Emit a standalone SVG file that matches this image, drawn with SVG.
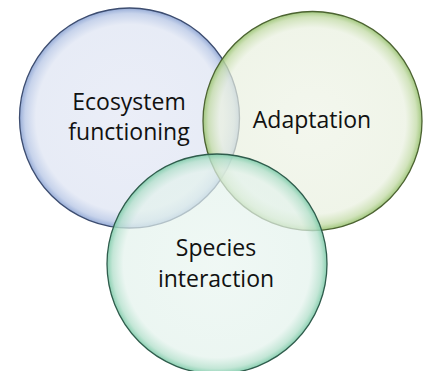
<svg xmlns="http://www.w3.org/2000/svg" width="430" height="371" viewBox="0 0 430 371">
<style>
.lbl{font-family:"Open Sans","Noto Sans",sans-serif;font-size:23px;fill:#111;text-anchor:middle}
.c{stroke-width:1.3}
</style>
<defs>
<radialGradient id="gb" cx="0.5" cy="0.5" r="0.5">
<stop offset="0" stop-color="#e4e8f5" stop-opacity="0.75"/>
<stop offset="0.85" stop-color="#dfe5f3" stop-opacity="0.75"/>
<stop offset="0.95" stop-color="#b9c8e6" stop-opacity="0.8"/>
<stop offset="1" stop-color="#8aa2d2" stop-opacity="0.9"/>
</radialGradient>
<radialGradient id="gg" cx="0.5" cy="0.5" r="0.5">
<stop offset="0" stop-color="#eef3e6" stop-opacity="0.7"/>
<stop offset="0.85" stop-color="#e9f0df" stop-opacity="0.7"/>
<stop offset="0.95" stop-color="#c5dcaa" stop-opacity="0.8"/>
<stop offset="1" stop-color="#98c270" stop-opacity="0.9"/>
</radialGradient>
<radialGradient id="gt" cx="0.5" cy="0.5" r="0.5">
<stop offset="0" stop-color="#e9f5f0" stop-opacity="0.7"/>
<stop offset="0.85" stop-color="#e3f2ec" stop-opacity="0.7"/>
<stop offset="0.95" stop-color="#b4e0cc" stop-opacity="0.8"/>
<stop offset="1" stop-color="#7ccaa8" stop-opacity="0.9"/>
</radialGradient>
</defs>
<rect width="430" height="371" fill="#ffffff"/>
<g id="node-ecosystem">
<circle class="c" cx="129.5" cy="118" r="110" fill="url(#gb)" stroke="#3d4d70"/>
<text class="lbl" x="129" y="110">Ecosystem</text>
<text class="lbl" x="129" y="140">functioning</text>
</g>
<g id="node-adaptation">
<circle class="c" cx="312.5" cy="121" r="109.5" fill="url(#gg)" stroke="#4c6332"/>
<text class="lbl" x="312" y="128">Adaptation</text>
</g>
<g id="node-species">
<circle class="c" cx="217" cy="264" r="110" fill="url(#gt)" stroke="#2f5c4c"/>
<text class="lbl" x="216" y="256">Species</text>
<text class="lbl" x="216" y="287">interaction</text>
</g>
<g id="connectors"/>
</svg>
